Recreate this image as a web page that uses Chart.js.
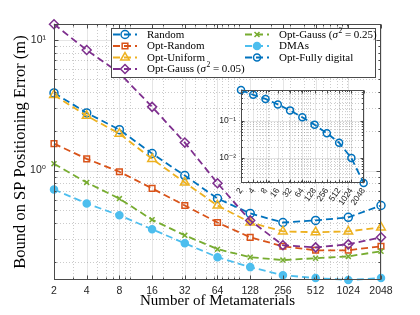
<!DOCTYPE html>
<html>
<head>
<meta charset="utf-8">
<script src="https://cdn.jsdelivr.net/npm/chart.js@4.4.0/dist/chart.umd.min.js"></script>
<style>
html, body { margin: 0; padding: 0; background: #fff; }
#wrap { position: relative; width: 420px; height: 315px; }
#main { position: absolute; left: 0; top: 0; }
#inset { position: absolute; left: 200px; top: 80px; }
</style>
</head>
<body>
<div id="wrap">
  <canvas id="main" width="420" height="315"></canvas>
  <canvas id="inset" width="175" height="145"></canvas>
</div>
<script>
// data
const metamaterials = [2, 4, 8, 16, 32, 64, 128, 256, 512, 1024, 2048];
const random      = [3.94, 2.77, 2.06, 1.35, 0.916, 0.611, 0.47, 0.40, 0.415, 0.438, 0.54];
const optRandom   = [1.61, 1.23, 0.98, 0.73, 0.54, 0.40, 0.308, 0.263, 0.245, 0.245, 0.263];
const optUniform  = [3.8, 2.63, 1.92, 1.23, 0.81, 0.54, 0.40, 0.342, 0.337, 0.342, 0.367];
const optGauss005 = [13.25, 8.4, 5.6, 3.08, 1.64, 0.80, 0.415, 0.268, 0.258, 0.272, 0.308];
const optGauss025 = [1.13, 0.81, 0.61, 0.42, 0.319, 0.25, 0.217, 0.206, 0.213, 0.22, 0.241];
const dmas        = [0.716, 0.56, 0.454, 0.355, 0.277, 0.217, 0.182, 0.158, 0.15, 0.145, 0.15];
const optFullyDigital = [0.655, 0.49, 0.38, 0.27, 0.187, 0.122, 0.077, 0.0455, 0.0253, 0.0098, 0.0021];

const xTicks = metamaterials;
const yTicksMain = [1, 10];
const yLabelsMain = ['10\u2070', '10\u00b9'];
const yTicksInset = [0.01, 0.1];
const yLabelsInset = ['10\u207b\u00b2', '10\u207b\u00b9'];

const series = [
  { label: 'Random', values: random, color: '#0072BD', style: 'circle', r: 4, filled: false },
  { label: 'Opt-Random', values: optRandom, color: '#D95319', style: 'rect', r: 4, filled: false },
  { label: 'Opt-Uniform', values: optUniform, color: '#EDB120', style: 'triangle', r: 5, filled: false },
  { label: 'Opt-Gauss (σ² = 0.05)', values: optGauss005, color: '#7E2F8E', style: 'rectRot', r: 4.5, filled: false },
  { label: 'Opt-Gauss (σ² = 0.25)', values: optGauss025, color: '#77AC30', style: 'crossRot', r: 3.5, filled: false },
  { label: 'DMAs', values: dmas, color: '#4DBEEE', style: 'circle', r: 3.5, filled: true }
];
const insetSeries = { label: 'Opt-Fully digital', values: optFullyDigital, color: '#0072BD', style: 'circle', r: 3.5, filled: false };

function makeDataset(s, i) {
  return {
    label: s.label,
    data: metamaterials.map((m, k) => ({ x: m, y: s.values[k] })),
    borderColor: s.color,
    backgroundColor: s.color,
    pointBackgroundColor: s.filled ? s.color : 'rgba(0,0,0,0)',
    pointBorderColor: s.color,
    pointStyle: s.style,
    pointRadius: s.r,
    pointBorderWidth: 1.5,
    borderWidth: 1.8,
    borderDash: [7, 4],
    tension: 0,
    clip: false,
    order: 20 - i
  };
}

function minorVals(min, max, skip) {
  const out = [];
  for (let e = Math.floor(Math.log10(min)); e <= Math.ceil(Math.log10(max)); e++) {
    for (let n = 1; n <= 9; n++) {
      const v = n * Math.pow(10, e);
      if (v > min * 1.0001 && v < max * 0.9999 && !skip.some(s => Math.abs(s - v) < 1e-9)) out.push(v);
    }
  }
  return out;
}

// MATLAB-like box, grid and tick marks
const matAxes = {
  id: 'matAxes',
  beforeDatasetsDraw(chart, args, o) {
    const { ctx, chartArea: a, scales: { x, y } } = chart;
    ctx.save();
    if (o.fill) {
      ctx.fillStyle = '#fff';
      ctx.fillRect(a.left, a.top, a.right - a.left, a.bottom - a.top);
    }
    ctx.lineWidth = 0.8;
    ctx.strokeStyle = 'rgba(38,38,38,0.3)';
    ctx.setLineDash([1, 2]);
    minorVals(x.min, x.max, o.xMajor).forEach(v => {
      const p = Math.round(x.getPixelForValue(v)) + 0.5;
      ctx.beginPath(); ctx.moveTo(p, a.top); ctx.lineTo(p, a.bottom); ctx.stroke();
    });
    minorVals(y.min, y.max, o.yMajor).forEach(v => {
      const p = Math.round(y.getPixelForValue(v)) + 0.5;
      ctx.beginPath(); ctx.moveTo(a.left, p); ctx.lineTo(a.right, p); ctx.stroke();
    });
    ctx.setLineDash([]);
    ctx.strokeStyle = 'rgba(38,38,38,0.15)';
    o.xMajor.forEach(v => {
      const p = Math.round(x.getPixelForValue(v)) + 0.5;
      ctx.beginPath(); ctx.moveTo(p, a.top); ctx.lineTo(p, a.bottom); ctx.stroke();
    });
    o.yMajor.forEach(v => {
      const p = Math.round(y.getPixelForValue(v)) + 0.5;
      ctx.beginPath(); ctx.moveTo(a.left, p); ctx.lineTo(a.right, p); ctx.stroke();
    });
    ctx.restore();
  },
  afterDatasetsDraw(chart, args, o) {
    const { ctx, chartArea: a, scales: { x, y } } = chart;
    ctx.save();
    ctx.strokeStyle = '#4a4a4a';
    ctx.lineWidth = 1;
    const L = Math.round(a.left) + 0.5, R = Math.round(a.right) - 0.5;
    const T = Math.round(a.top) + 0.5, B = Math.round(a.bottom) - 0.5;
    const tickX = (v, len) => {
      const p = Math.round(x.getPixelForValue(v)) + 0.5;
      ctx.beginPath();
      ctx.moveTo(p, B); ctx.lineTo(p, B - len);
      ctx.moveTo(p, T); ctx.lineTo(p, T + len);
      ctx.stroke();
    };
    const tickY = (v, len) => {
      const p = Math.round(y.getPixelForValue(v)) + 0.5;
      ctx.beginPath();
      ctx.moveTo(L, p); ctx.lineTo(L + len, p);
      ctx.moveTo(R, p); ctx.lineTo(R - len, p);
      ctx.stroke();
    };
    minorVals(x.min, x.max, o.xMajor).forEach(v => tickX(v, o.tick / 2));
    minorVals(y.min, y.max, o.yMajor).forEach(v => tickY(v, o.tick / 2));
    o.xMajor.forEach(v => tickX(v, o.tick));
    o.yMajor.forEach(v => tickY(v, o.tick));
    ctx.strokeRect(L, T, R - L, B - T);
    ctx.restore();
  }
};

// two-column legend like the MATLAB one
const legendLayout = [
  { s: series[0], col: 0, row: 0 },
  { s: series[1], col: 0, row: 1 },
  { s: series[2], col: 0, row: 2 },
  { s: series[3], col: 0, row: 3 },
  { s: series[4], col: 1, row: 0 },
  { s: series[5], col: 1, row: 1 },
  { s: insetSeries, col: 1, row: 2 }
];

function drawLabel(ctx, text, x, y) {
  const base = '11px "Liberation Serif", "Times New Roman", serif';
  const m = text.match(/^(.*\()σ²(.*)$/);
  ctx.textBaseline = 'middle';
  ctx.textAlign = 'left';
  if (!m) { ctx.font = base; ctx.fillText(text, x, y); return; }
  ctx.font = base;
  ctx.fillText(m[1], x, y); x += ctx.measureText(m[1]).width;
  ctx.font = 'italic ' + base;
  ctx.fillText('σ', x, y); x += ctx.measureText('σ').width + 0.5;
  ctx.font = '7.5px "Liberation Serif", serif';
  ctx.fillText('2', x, y - 4); x += ctx.measureText('2').width;
  ctx.font = base;
  ctx.fillText(m[2], x, y);
}

const matLegend = {
  id: 'matLegend',
  afterDraw(chart) {
    const ctx = chart.ctx;
    ctx.save();
    ctx.fillStyle = '#fff';
    ctx.fillRect(111, 28, 265, 50);
    ctx.strokeStyle = '#4a4a4a';
    ctx.lineWidth = 1;
    ctx.strokeRect(111.5, 28.5, 264, 49);
    const colX = [113, 245];
    const rowY = [34.5, 46, 57.5, 69];
    legendLayout.forEach(it => {
      const x0 = colX[it.col], y0 = rowY[it.row];
      ctx.strokeStyle = it.s.color;
      ctx.lineWidth = 1.8;
      ctx.setLineDash([7, 4]);
      ctx.beginPath(); ctx.moveTo(x0, y0); ctx.lineTo(x0 + 24, y0); ctx.stroke();
      ctx.setLineDash([]);
      ctx.lineWidth = 1.5;
      ctx.fillStyle = it.s.filled ? it.s.color : 'rgba(0,0,0,0)';
      Chart.helpers.drawPoint(ctx, { pointStyle: it.s.style, radius: it.s.r, rotation: 0, borderWidth: 1.5 }, x0 + 12, y0);
      ctx.fillStyle = '#000';
      drawLabel(ctx, it.s.label, x0 + 34, y0 + 0.5);
    });
    ctx.restore();
  }
};

const sansTick = { family: '"Liberation Sans", Arial, "DejaVu Sans", sans-serif', size: 10.5 };
const serifTitle = { family: '"Liberation Serif", "Times New Roman", serif', size: 15 };
const serifTitleY = { family: '"Liberation Serif", "Times New Roman", serif', size: 16.5 };

new Chart(document.getElementById('main'), {
  type: 'line',
  data: { datasets: series.map(makeDataset) },
  options: {
    responsive: false,
    animation: false,
    events: [],
    layout: { padding: { top: 24, right: 39, left: 0, bottom: 0 } },
    plugins: {
      legend: { display: false },
      tooltip: { enabled: false },
      matAxes: { xMajor: xTicks, yMajor: yTicksMain, tick: 4, fill: false }
    },
    scales: {
      x: {
        type: 'logarithmic', min: 2, max: 2048,
        afterBuildTicks: s => { s.ticks = xTicks.map(v => ({ value: v })); },
        afterFit: s => { s.height = 35; },
        grid: { display: false, drawTicks: false },
        border: { display: false },
        ticks: { autoSkip: false, maxRotation: 0, minRotation: 0, padding: 5, color: '#262626', font: sansTick,
                 callback: v => String(v) },
        title: { display: true, text: 'Number of Metamaterials', color: '#000', font: serifTitle, padding: { top: 0, bottom: 5 } }
      },
      y: {
        type: 'logarithmic', min: 0.145, max: 13.3,
        afterBuildTicks: s => { s.ticks = yTicksMain.map(v => ({ value: v })); },
        afterFit: s => { s.width = 54; },
        grid: { display: false, drawTicks: false },
        border: { display: false },
        ticks: { padding: 8, color: '#262626', font: sansTick,
                 callback: v => yLabelsMain[yTicksMain.indexOf(v)] || '' },
        title: { display: true, text: 'Bound on SP Positioning Error (m)', color: '#000', font: serifTitleY, padding: { top: 11, bottom: 0 } }
      }
    }
  },
  plugins: [matAxes, matLegend]
});

const sansSmall = { family: '"Liberation Sans", Arial, "DejaVu Sans", sans-serif', size: 8.5 };

new Chart(document.getElementById('inset'), {
  type: 'line',
  data: { datasets: [makeDataset(insetSeries, 0)] },
  options: {
    responsive: false,
    animation: false,
    events: [],
    layout: { padding: { top: 8, right: 8, left: 0, bottom: 0 } },
    plugins: {
      legend: { display: false },
      tooltip: { enabled: false },
      matAxes: { xMajor: xTicks, yMajor: yTicksInset, tick: 3, fill: true }
    },
    scales: {
      x: {
        type: 'logarithmic', min: 2, max: 2048,
        afterBuildTicks: s => { s.ticks = xTicks.map(v => ({ value: v })); },
        afterFit: s => { s.height = 42; },
        grid: { display: false, drawTicks: false },
        border: { display: false },
        ticks: { autoSkip: false, maxRotation: 55, minRotation: 55, padding: 3, color: '#262626', font: sansSmall,
                 callback: v => String(v) }
      },
      y: {
        type: 'logarithmic', min: 0.0021, max: 0.655,
        afterBuildTicks: s => { s.ticks = yTicksInset.map(v => ({ value: v })); },
        afterFit: s => { s.width = 41; },
        grid: { display: false, drawTicks: false },
        border: { display: false },
        ticks: { padding: 5, color: '#262626', font: sansSmall,
                 callback: v => yLabelsInset[yTicksInset.indexOf(v)] || '' }
      }
    }
  },
  plugins: [matAxes]
});
</script>
</body>
</html>
